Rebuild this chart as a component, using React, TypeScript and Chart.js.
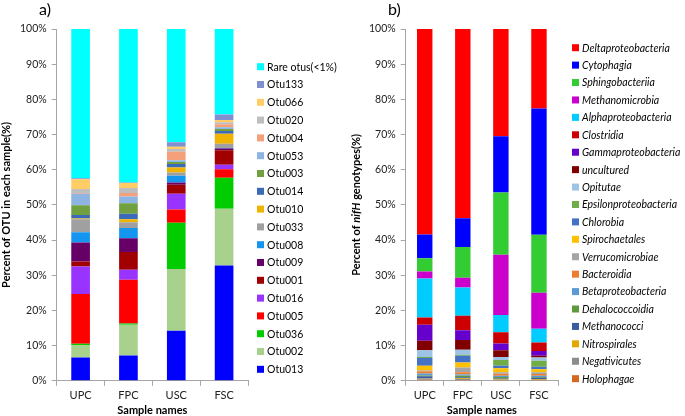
import React, { useEffect, useRef } from 'react';
import { Chart, registerables } from 'chart.js';
Chart.register(...registerables);

// ---------- shared ----------
const samples = ['UPC', 'FPC', 'USC', 'FSC'];
const yTicks = [0, 10, 20, 30, 40, 50, 60, 70, 80, 90, 100];

// ---------- panel a: OTUs (bottom -> top) ----------
const otuNames = ['Otu013', 'Otu002', 'Otu036', 'Otu005', 'Otu016', 'Otu001', 'Otu009', 'Otu008', 'Otu033', 'Otu010', 'Otu014', 'Otu003', 'Otu053', 'Otu004', 'Otu020', 'Otu066', 'Otu133', 'Rare otus(<1%)'];
const otuColors = ['#0000FF', '#A9D18E', '#00CC00', '#FF0000', '#9933FF', '#A00000', '#660066', '#1496F0', '#A0A0A0', '#F0B400', '#3D6AB8', '#70A040', '#8DB4E2', '#F4A07A', '#BEBEBE', '#FFCC66', '#7F8FCF', '#00FFFF'];
const otu013 = [6.6, 7.2, 14.2, 32.8];
const otu002 = [3.6, 8.7, 17.6, 16.1];
const otu036 = [0.3, 0.4, 13.1, 8.8];
const otu005 = [14.2, 12.4, 3.8, 2.4];
const otu016 = [7.8, 2.9, 4.5, 1.3];
const otu001 = [1.4, 5.0, 2.5, 4.1];
const otu009 = [5.4, 3.9, 0.7, 0.5];
const otu008 = [2.9, 2.9, 1.9, 0.2];
const otu033 = [3.7, 1.7, 0.9, 1.2];
const otu010 = [0.2, 0.8, 1.4, 2.8];
const otu014 = [1.0, 1.6, 1.0, 0.8];
const otu003 = [2.8, 3.0, 0.6, 0.6];
const otu053 = [3.3, 1.9, 0.5, 0.5];
const otu004 = [0.2, 1.0, 2.4, 0.8];
const otu020 = [1.1, 1.4, 0.8, 0.6];
const otu066 = [2.8, 1.4, 0.6, 0.6];
const otu133 = [0.3, 0.2, 1.3, 1.6];
const rareOtus = [42.4, 43.6, 32.2, 24.3];
const otuValues = [otu013, otu002, otu036, otu005, otu016, otu001, otu009, otu008, otu033, otu010, otu014, otu003, otu053, otu004, otu020, otu066, otu133, rareOtus];

// ---------- panel b: nifH classes (bottom -> top) ----------
const nifNames = ['Holophagae', 'Negativicutes', 'Nitrospirales', 'Methanococci', 'Dehalococcoidia', 'Betaproteobacteria', 'Bacteroidia', 'Verrucomicrobiae', 'Spirochaetales', 'Chlorobia', 'Epsilonproteobacteria', 'Opitutae', 'uncultured', 'Gammaproteobacteria', 'Clostridia', 'Alphaproteobacteria', 'Methanomicrobia', 'Sphingobacteriia', 'Cytophagia', 'Deltaproteobacteria'];
const nifColors = ['#D2691E', '#8C8C8C', '#E0A800', '#3A5BA0', '#5E9A3C', '#5B9BD5', '#ED7D31', '#A5A5A5', '#FFC000', '#4472C4', '#70AD47', '#9DC3E6', '#800000', '#6600CC', '#CC0000', '#00CCFF', '#CC00CC', '#33CC33', '#0000FF', '#FF0000'];
const holophagae = [0.3, 0.2, 0.2, 0.2];
const negativicutes = [0.4, 0.3, 0.2, 0.1];
const nitrospirales = [0.1, 0.2, 0.2, 0.2];
const methanococci = [0.5, 0.3, 0.2, 0.4];
const dehalococcoidia = [0.2, 0.4, 0.3, 0.2];
const betaproteobacteria = [0.6, 0.4, 0.3, 0.3];
const bacteroidia = [0.6, 0.6, 0.6, 0.5];
const verrucomicrobiae = [0.2, 1.4, 0.4, 0.5];
const spirochaetales = [1.4, 1.4, 1.2, 0.9];
const chlorobia = [2.2, 1.9, 0.7, 0.7];
const epsilonproteobacteria = [0.3, 0.3, 1.6, 1.7];
const opitutae = [1.9, 1.4, 0.9, 0.9];
const uncultured = [2.7, 2.8, 1.9, 0.5];
const gammaproteobacteria = [4.5, 2.8, 1.9, 1.4];
const clostridia = [2.1, 4.1, 3.2, 2.4];
const alphaproteobacteria = [11.1, 8.0, 4.9, 3.9];
const methanomicrobia = [2.0, 2.8, 17.1, 10.2];
const sphingobacteriia = [3.7, 8.7, 17.7, 16.5];
const cytophagia = [6.8, 8.2, 16.0, 35.9];
const deltaproteobacteria = [58.4, 53.8, 30.5, 22.6];
const nifValues = [holophagae, negativicutes, nitrospirales, methanococci, dehalococcoidia, betaproteobacteria, bacteroidia, verrucomicrobiae, spirochaetales, chlorobia, epsilonproteobacteria, opitutae, uncultured, gammaproteobacteria, clostridia, alphaproteobacteria, methanomicrobia, sphingobacteriia, cytophagia, deltaproteobacteria];

const FONT = 'Lato, "Open Sans", sans-serif';
const AXIS_GRAY = '#A6A6A6';

type Seg = { text: string; italic?: boolean };
type Deco = {
  panel: string;
  panelX: number;
  ySegs: Seg[];
  titleX: number;
  legendOffset: number; // from chart right edge to legend box
  legendTop: number;
  legendStep: number;
  italic: boolean;
};

function overlayPlugin(d: Deco) {
  return {
    id: 'overlay_' + d.panel.replace(')', ''),
    afterDraw(chart: any) {
      const ctx = chart.ctx as CanvasRenderingContext2D;
      const area = chart.chartArea;
      ctx.save();
      ctx.fillStyle = '#000';
      ctx.font = `16px ${FONT}`;
      ctx.textBaseline = 'alphabetic';
      ctx.textAlign = 'left';
      ctx.fillText(d.panel, d.panelX, 15);

      // x-axis title
      ctx.font = `bold 11px ${FONT}`;
      ctx.textAlign = 'center';
      ctx.textBaseline = 'middle';
      ctx.fillText('Sample names', (area.left + area.right) / 2, 410);

      // legend (top item = last dataset)
      const ds = chart.data.datasets;
      const boxX = area.right + d.legendOffset;
      ctx.textAlign = 'left';
      ctx.font = `${d.italic ? 'italic ' : ''}10.5px ${FONT}`;
      for (let k = 0; k < ds.length; k++) {
        const item = ds[ds.length - 1 - k];
        const cy = d.legendTop + k * d.legendStep;
        ctx.fillStyle = item.backgroundColor;
        ctx.fillRect(boxX, cy - 3.5, 7, 7);
        ctx.fillStyle = '#000';
        ctx.fillText(item.label, boxX + 10, cy + 0.5);
      }

      // y-axis title, rotated, mixed styles
      const cy = (area.top + area.bottom) / 2;
      ctx.translate(d.titleX, cy);
      ctx.rotate(-Math.PI / 2);
      ctx.textAlign = 'left';
      ctx.textBaseline = 'middle';
      const fonts = d.ySegs.map((s) => `${s.italic ? 'italic ' : ''}bold 11px ${FONT}`);
      const widths = d.ySegs.map((s, i) => {
        ctx.font = fonts[i];
        return ctx.measureText(s.text).width;
      });
      const total = widths.reduce((a, b) => a + b, 0);
      let x = -total / 2;
      d.ySegs.forEach((s, i) => {
        ctx.font = fonts[i];
        ctx.fillText(s.text, x, 0);
        x += widths[i];
      });
      ctx.restore();
    },
  };
}

function makeConfig(names: string[], colors: string[], values: number[][], barPct: number, padding: any, plugin: any) {
  return {
    type: 'bar' as const,
    data: {
      labels: samples,
      datasets: names.map((n, i) => ({
        label: n,
        data: values[i],
        backgroundColor: colors[i],
        borderWidth: 0,
        categoryPercentage: 1,
        barPercentage: barPct,
      })),
    },
    options: {
      responsive: false,
      animation: false as const,
      layout: { padding },
      plugins: {
        title: { display: false },
        tooltip: { enabled: false },
        legend: { display: false },
      },
      scales: {
        x: {
          stacked: true,
          grid: { display: true, drawOnChartArea: false, drawTicks: true, tickLength: 5, color: AXIS_GRAY, offset: true },
          border: { display: true, color: AXIS_GRAY },
          ticks: { color: '#222', font: { family: FONT, size: 11 }, padding: 3 },
          title: { display: false },
        },
        y: {
          stacked: true,
          min: 0,
          max: 100,
          afterBuildTicks: (axis: any) => {
            axis.ticks = yTicks.map((v) => ({ value: v }));
          },
          grid: { display: true, drawOnChartArea: false, drawTicks: true, tickLength: 5, color: AXIS_GRAY },
          border: { display: true, color: AXIS_GRAY },
          ticks: { color: '#222', font: { family: FONT, size: 10.5 }, padding: 5, callback: (v: any) => v + '%' },
        },
      },
    },
    plugins: [plugin],
  };
}

function PanelChart({ width, left, config }: { width: number; left: number; config: any }) {
  const ref = useRef<HTMLCanvasElement | null>(null);
  useEffect(() => {
    if (!ref.current) return;
    const chart = new Chart(ref.current, config);
    return () => chart.destroy();
  }, []);
  return (
    <div style={{ position: 'absolute', left, top: 0, width, height: 416 }}>
      <canvas ref={ref} width={width} height={416} style={{ display: 'block' }} />
    </div>
  );
}

export default function App() {
  const cfgA = makeConfig(
    otuNames, otuColors, otuValues, 0.39,
    { left: 15, top: 29, right: 92, bottom: 11 },
    overlayPlugin({
      panel: 'a)', panelX: 39, ySegs: [{ text: 'Percent of OTU in each sample(%)' }], titleX: 6,
      legendOffset: 9, legendTop: 66.7, legendStep: 17.8, italic: false,
    })
  );
  const cfgB = makeConfig(
    nifNames, nifColors, nifValues, 0.405,
    { left: 24, top: 29, right: 127, bottom: 11 },
    overlayPlugin({
      panel: 'b)', panelX: 48, ySegs: [{ text: 'Percent of ' }, { text: 'nifH', italic: true }, { text: ' genotypes(%)' }], titleX: 16,
      legendOffset: 14, legendTop: 47.7, legendStep: 17.42, italic: true,
    })
  );
  return (
    <div style={{ position: 'absolute', left: 0, top: 0, width: 685, height: 416, background: '#fff' }}>
      <PanelChart width={340} left={0} config={cfgA} />
      <PanelChart width={345} left={340} config={cfgB} />
    </div>
  );
}
